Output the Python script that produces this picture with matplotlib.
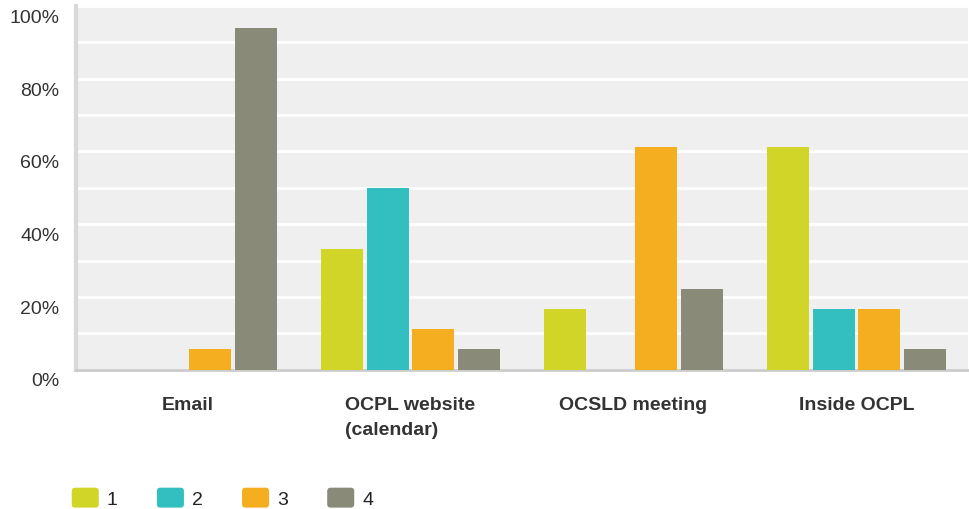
import numpy as np
import matplotlib.pyplot as plt
from matplotlib.patches import FancyBboxPatch, Patch
from matplotlib.legend_handler import HandlerPatch
from matplotlib.ticker import MultipleLocator, FuncFormatter
from matplotlib.transforms import ScaledTranslation

categories = ["Email", "OCPL website\n(calendar)", "OCSLD meeting", "Inside OCPL"]
series_names = ["1", "2", "3", "4"]
# percent of responses per rank
rank1 = [0.0, 33.3, 16.7, 61.1]
rank2 = [0.0, 50.0, 0.0, 16.7]
rank3 = [5.6, 11.1, 61.1, 16.7]
rank4 = [94.0, 5.6, 22.2, 5.6]
colors = ["#d0d527", "#33bfbf", "#f6ae21", "#898a78"]


class RoundHandler(HandlerPatch):
    def create_artists(self, legend, orig_handle, xdescent, ydescent,
                       width, height, fontsize, trans):
        p = FancyBboxPatch((-xdescent, -ydescent), width, height,
                           boxstyle="round,pad=0,rounding_size=2.5",
                           facecolor=orig_handle.get_facecolor(),
                           edgecolor="none", transform=trans)
        return [p]


plt.rcParams["font.family"] = ["Liberation Sans", "DejaVu Sans"]
plt.rcParams["font.size"] = 14

fig = plt.figure(figsize=(9.69, 5.10), dpi=100)
ax = fig.add_axes([0.0784, 0.2735, 0.9206, 0.7125])
ax.set_facecolor("#efefef")

x = np.arange(len(categories))
width = 0.19
step = 0.204
for i, vals in enumerate([rank1, rank2, rank3, rank4]):
    ax.bar(x + (i - 1.5) * step, vals, width, color=colors[i],
           label=series_names[i], zorder=3)

ax.set_xlim(-0.5, len(categories) - 0.5)
ax.set_ylim(0, 100)
ax.yaxis.set_major_locator(MultipleLocator(20))
ax.yaxis.set_minor_locator(MultipleLocator(10))
ax.yaxis.set_major_formatter(FuncFormatter(lambda v, p: "{:d}%".format(int(v))))
ax.grid(axis="y", which="both", color="white", linewidth=2, zorder=1)
ax.set_axisbelow(True)

ax.set_xticks(x)
ax.set_xticklabels(categories, fontweight="bold", color="#333333",
                   multialignment="left", va="top", linespacing=1.6)
ax.tick_params(axis="x", length=0, pad=19)
ax.tick_params(axis="y", which="both", length=0, pad=12, labelcolor="#333333")
shift = ScaledTranslation(0, -2 / 72, fig.dpi_scale_trans)
for lab in ax.get_yticklabels():
    lab.set_va("top")
    lab.set_transform(lab.get_transform() + shift)

for side in ["top", "right"]:
    ax.spines[side].set_visible(False)
ax.spines["left"].set_color("#d9d9d9")
ax.spines["left"].set_linewidth(3)
ax.spines["bottom"].set_color("#cccccc")
ax.spines["bottom"].set_linewidth(2)

handles = [Patch(facecolor=c) for c in colors]
leg = fig.legend(handles, series_names, loc="lower left",
                 bbox_to_anchor=(0.064, -0.0175), ncol=4, frameon=False,
                 borderpad=0, handlelength=1.39, handleheight=1.2,
                 handletextpad=0.41, columnspacing=2.02, fontsize=14,
                 handler_map={Patch: RoundHandler()})
for t in leg.get_texts():
    t.set_color("#222222")

plt.savefig("out.png", dpi=100)
